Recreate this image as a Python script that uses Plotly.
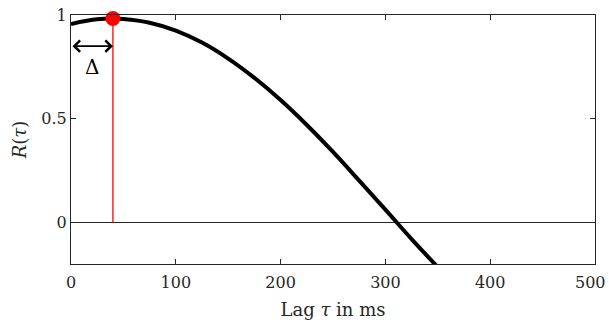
import plotly.graph_objects as go

# Data
lag = [0, 25, 40, 50, 75, 100, 125, 150, 175, 200, 225, 250, 275, 300, 325, 349]
R = [0.957, 0.979, 0.983, 0.981, 0.963, 0.925, 0.867, 0.790, 0.697, 0.590, 0.470, 0.340, 0.202, 0.062, -0.080, -0.21]
peak_lag = [40]
peak_R = [0.983]
arrow_y = 0.85
delta_label_y = 0.75
x_ticks = [0, 100, 200, 300, 400, 500]
y_ticks = [0, 0.5, 1]
y_ticktext = ["0", "0.5", "1"]

FONT = "DejaVu Serif"
AX = "#262626"

fig = go.Figure()
fig.add_trace(go.Scatter(x=lag, y=R, mode="lines", line=dict(color="black", width=4, shape="spline", smoothing=1.0),
                         showlegend=False, hoverinfo="skip"))
fig.add_trace(go.Scatter(x=[peak_lag[0], peak_lag[0]], y=[0, peak_R[0]], mode="lines",
                         line=dict(color="#ff0000", width=1.3), showlegend=False, hoverinfo="skip"))
fig.add_trace(go.Scatter(x=peak_lag, y=peak_R, mode="markers",
                         marker=dict(color="#ff0000", size=15, line=dict(width=0)),
                         showlegend=False, hoverinfo="skip", cliponaxis=False))

# double arrow Δ
fig.add_annotation(x=peak_lag[0], y=arrow_y, ax=0, ay=arrow_y, xref="x", yref="y", axref="x", ayref="y",
                   showarrow=True, arrowhead=4, startarrowhead=4, arrowside="end+start",
                   arrowsize=1.4, startarrowsize=1.4, arrowwidth=1.6, arrowcolor="black", text="")
fig.add_annotation(x=peak_lag[0] / 2, y=delta_label_y, text="Δ", showarrow=False,
                   font=dict(family=FONT, size=20, color="black"))

# last x tick label (sits at the right edge in the reference)
fig.add_annotation(x=x_ticks[-1], y=0, xref="x", yref="paper", yanchor="top", xanchor="right",
                   xshift=13, yshift=-7,
                   text=str(x_ticks[-1]), showarrow=False, font=dict(family=FONT, size=16, color=AX))

fig.update_layout(
    width=609, height=324,
    margin=dict(l=71, r=14, t=15, b=60, autoexpand=False),
    paper_bgcolor="white", plot_bgcolor="white",
    font=dict(family=FONT, size=16, color=AX),
)
fig.update_xaxes(range=[0, 500], tickvals=x_ticks,
                 ticktext=[str(v) for v in x_ticks[:-1]] + [""],
                 showgrid=False, zeroline=False, showline=True, linecolor=AX, linewidth=1,
                 mirror="ticks", ticks="inside", ticklen=5, tickcolor=AX,
                 ticklabelstandoff=4, automargin=False,
                 title=dict(text="Lag <i>τ</i> in ms", font=dict(family=FONT, size=18, color=AX), standoff=12))
fig.update_yaxes(range=[-0.2, 1], tickvals=y_ticks, ticktext=y_ticktext,
                 showgrid=False, zeroline=True, zerolinecolor=AX, zerolinewidth=1,
                 showline=True, linecolor=AX, linewidth=1,
                 mirror="ticks", ticks="inside", ticklen=5, tickcolor=AX,
                 automargin=False,
                 title=dict(text="<i>R</i>(<i>τ</i>)", font=dict(family=FONT, size=18, color=AX), standoff=10))

fig.write_html("out.html")
